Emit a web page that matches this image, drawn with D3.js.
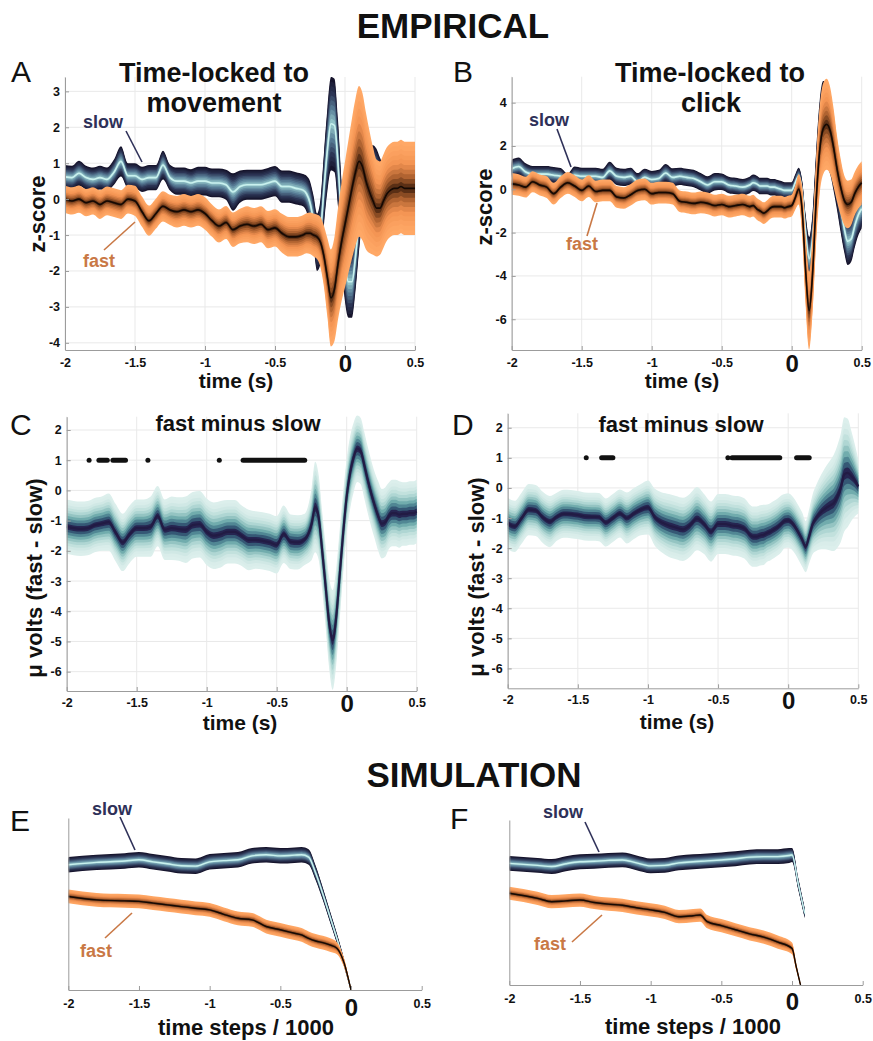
<!DOCTYPE html>
<html><head><meta charset="utf-8">
<script src="https://cdn.jsdelivr.net/npm/d3@7"></script>
<style>
body{margin:0;background:#fff}
svg{display:block}
text{font-family:"Liberation Sans",Arial,Helvetica,sans-serif}
</style>
</head><body>
<svg id="chart" width="873" height="1041"></svg>
<script>
// ---------------- DATA ----------------
const X_TICKS = [-2,-1.5,-1,-0.5,0,0.5];
const X_TICK_LABELS = ["-2","-1.5","-1","-0.5","0","0.5"];
const A_Y_TICKS = [3,2,1,0,-1,-2,-3,-4];
const B_Y_TICKS = [4,2,0,-2,-4,-6];
const CD_Y_TICKS = [2,1,0,-1,-2,-3,-4,-5,-6];

const T_EMP = [-2,-1.95,-1.9,-1.85,-1.8,-1.75,-1.7,-1.65,-1.6,-1.55,-1.5,-1.45,-1.4,-1.35,-1.3,-1.25,-1.2,-1.15,-1.1,-1.05,-1,-0.95,-0.9,-0.85,-0.8,-0.75,-0.7,-0.65,-0.6,-0.55,-0.5,-0.45,-0.4,-0.35,
  -0.3,-0.275,-0.25,-0.225,-0.2,-0.175,-0.15,-0.125,-0.1,-0.075,-0.05,-0.025,0,0.025,0.05,0.075,0.1,0.125,0.15,0.175,0.2,0.225,0.25,0.275,0.3,0.325,0.35,0.375,0.4,0.425,0.45,0.475,0.5];

// Panel A: time-locked to movement (z-score)
const A_SLOW_MEAN = [0.62,0.6,0.72,0.6,0.55,0.6,0.55,0.75,1.05,0.65,0.65,0.55,0.6,0.6,0.95,0.6,0.5,0.5,0.45,0.5,0.5,0.45,0.45,0.4,0.2,0.35,0.4,0.4,0.4,0.45,0.5,0.35,0.35,0.3,
  0.25,0.15,-0.1,-0.6,-1.2,-0.9,0.3,1.4,2.1,2.05,1.0,-0.6,-1.8,-2.3,-2.3,-1.6,-0.6,0.2,0.65,0.85,0.9,0.8,0.55,0.35,0.25,0.2,0.2,0.25,0.3,0.3,0.3,0.3,0.3];
const A_SLOW_W = [0.33,0.33,0.35,0.33,0.33,0.33,0.33,0.35,0.42,0.35,0.35,0.35,0.35,0.35,0.4,0.36,0.38,0.38,0.38,0.4,0.4,0.4,0.4,0.42,0.52,0.45,0.42,0.42,0.42,0.42,0.42,0.45,0.45,0.45,
  0.45,0.5,0.6,0.7,0.8,0.9,1.0,1.15,1.3,1.3,1.2,1.1,1.05,1.0,1.0,0.95,0.85,0.75,0.65,0.6,0.6,0.6,0.6,0.6,0.6,0.6,0.6,0.6,0.6,0.6,0.6,0.6,0.6];
const A_FAST_MEAN = [0.0,-0.05,0.0,-0.1,-0.05,-0.15,-0.05,-0.1,-0.15,0.0,-0.05,-0.35,-0.6,-0.4,-0.2,-0.3,-0.35,-0.3,-0.35,-0.3,-0.4,-0.6,-0.75,-0.65,-0.85,-0.75,-0.7,-0.75,-0.7,-0.85,-0.8,-0.95,-1.05,-1.05,
  -1.0,-0.95,-0.95,-1.0,-1.05,-1.2,-1.6,-2.2,-2.75,-2.5,-1.8,-1.2,-0.7,-0.2,0.3,0.75,1.05,0.9,0.5,0.2,-0.05,-0.25,-0.25,-0.05,0.15,0.25,0.3,0.3,0.35,0.3,0.3,0.3,0.3];
const A_FAST_W = [0.38,0.38,0.38,0.38,0.38,0.4,0.4,0.4,0.4,0.4,0.42,0.42,0.42,0.42,0.42,0.42,0.44,0.44,0.44,0.44,0.45,0.45,0.46,0.46,0.48,0.48,0.5,0.5,0.5,0.52,0.52,0.54,0.55,0.55,
  0.55,0.56,0.58,0.6,0.62,0.7,0.85,1.1,1.35,1.45,1.55,1.65,1.75,1.85,1.95,2.05,2.1,2.05,1.9,1.7,1.5,1.35,1.3,1.3,1.3,1.3,1.3,1.3,1.3,1.3,1.3,1.3,1.3];

// Panel B: time-locked to click (z-score)
const B_SLOW_MEAN = [0.95,1.05,0.8,0.7,0.7,0.7,0.65,0.6,0.35,0.65,0.6,0.6,0.6,0.55,0.85,0.6,0.55,0.6,0.35,0.55,0.45,0.5,0.75,0.55,0.6,0.55,0.5,0.35,0.2,0.35,0.35,0.2,0.15,0.1,
  0.2,0.3,0.25,0.15,0.15,0.15,0.1,0.1,0.05,0.0,-0.05,-0.05,-0.05,0.3,0.6,-0.1,-2.0,-3.2,-2.2,0.2,2.2,3.0,3.0,2.6,1.6,0.4,-0.8,-1.8,-2.4,-2.3,-1.7,-1.2,-0.9];
const B_SLOW_W = [0.42,0.42,0.4,0.38,0.38,0.38,0.38,0.38,0.38,0.4,0.4,0.4,0.4,0.4,0.42,0.4,0.4,0.4,0.4,0.4,0.4,0.4,0.42,0.42,0.4,0.4,0.4,0.4,0.4,0.4,0.38,0.38,0.38,0.38,
  0.38,0.38,0.38,0.38,0.38,0.38,0.38,0.38,0.38,0.38,0.38,0.38,0.38,0.38,0.4,0.5,0.8,1.0,1.2,1.6,1.9,2.0,2.0,1.9,1.7,1.4,1.2,1.1,1.1,1.05,1.0,0.95,0.9];
const B_FAST_MEAN = [0.25,0.2,0.1,0.35,0.2,0.1,-0.2,0.1,0.3,0.15,-0.05,0.15,-0.1,-0.05,-0.05,-0.35,-0.4,-0.25,-0.05,0.0,-0.2,-0.15,-0.15,-0.2,-0.55,-0.6,-0.65,-0.6,-0.65,-0.75,-0.7,-0.8,-0.75,-0.7,
  -0.8,-0.75,-0.9,-1.0,-1.1,-1.0,-0.85,-0.8,-0.8,-0.8,-0.85,-0.8,-0.75,-0.4,0.0,-1.0,-3.8,-5.6,-3.8,-0.5,1.8,2.8,3.0,2.7,1.9,0.9,0.1,-0.5,-0.7,-0.6,-0.2,0.1,0.3];
const B_FAST_W = [0.5,0.5,0.48,0.48,0.48,0.5,0.5,0.5,0.5,0.5,0.5,0.5,0.5,0.5,0.5,0.5,0.5,0.5,0.5,0.5,0.5,0.5,0.5,0.5,0.5,0.5,0.5,0.5,0.5,0.5,0.5,0.5,0.5,0.5,
  0.5,0.5,0.5,0.5,0.5,0.5,0.5,0.5,0.5,0.5,0.5,0.5,0.5,0.55,0.7,1.1,1.6,1.8,1.8,1.9,2.0,2.1,2.1,2.0,1.8,1.5,1.3,1.15,1.1,1.05,1.0,1.0,1.0];

// Panel C: fast minus slow (movement-locked), micro volts
const C_MEAN = [-1.2,-1.25,-1.27,-1.25,-1.15,-1.1,-1.05,-1.4,-1.72,-1.45,-1.25,-1.25,-1.2,-0.85,-1.3,-1.25,-1.28,-1.3,-1.15,-1.12,-1.37,-1.5,-1.45,-1.37,-1.37,-1.5,-1.64,-1.64,-1.67,-1.72,-1.8,-1.45,-1.7,-1.72,
  -1.62,-1.45,-1.1,-0.55,-0.9,-2.0,-3.2,-4.4,-4.95,-4.2,-2.8,-1.4,-0.2,0.6,1.1,1.38,1.3,0.85,0.35,-0.1,-0.5,-0.85,-1.1,-1.05,-0.85,-0.75,-0.75,-0.8,-0.78,-0.78,-0.75,-0.75,-0.7];
const C_W = [0.9,0.9,0.9,0.9,0.9,0.9,0.95,0.95,0.95,0.95,0.95,0.95,1.0,1.0,1.0,1.05,1.05,1.1,1.1,1.1,1.1,1.1,1.1,1.05,1.05,1.0,1.0,0.95,0.95,0.95,0.95,0.95,0.9,0.9,
  0.85,0.95,1.2,1.5,1.4,1.3,1.35,1.5,1.65,1.6,1.5,1.35,1.25,1.2,1.15,1.1,1.1,1.1,1.1,1.1,1.1,1.15,1.15,1.15,1.1,1.1,1.1,1.1,1.05,1.05,1.05,1.05,1.05];
const C_SIG = [[-1.84,-1.84],[-1.77,-1.71],[-1.67,-1.58],[-1.42,-1.42],[-0.91,-0.91],[-0.74,-0.30]];

// Panel D: fast minus slow (click-locked), micro volts
const D_MEAN = [-1.18,-1.28,-1.0,-0.72,-0.75,-0.98,-1.12,-0.96,-0.86,-0.87,-0.9,-0.95,-0.96,-0.97,-1.15,-1.0,-0.85,-1.0,-0.85,-0.72,-0.65,-0.98,-1.15,-1.25,-1.32,-1.38,-1.24,-1.02,-1.2,-1.45,-1.2,-1.2,-1.25,-1.28,
  -1.4,-1.55,-1.62,-1.62,-1.58,-1.56,-1.5,-1.45,-1.38,-1.3,-1.2,-1.1,-1.08,-1.15,-1.3,-1.5,-1.72,-1.95,-1.6,-1.2,-1.0,-0.85,-0.74,-0.65,-0.58,-0.5,-0.3,0.0,0.45,0.5,0.4,0.25,0.05];
const D_W = [0.85,0.85,0.85,0.85,0.85,0.85,0.85,0.8,0.8,0.8,0.8,0.8,0.8,0.8,0.8,0.8,0.8,0.85,0.85,0.85,0.9,0.95,1.0,1.05,1.05,1.05,1.05,1.05,1.0,1.0,1.0,1.0,1.0,1.0,
  1.0,1.0,1.0,1.0,1.0,1.0,0.95,0.95,0.95,0.95,0.95,0.9,0.9,0.9,0.9,0.9,0.9,0.85,0.9,1.0,1.1,1.2,1.3,1.4,1.5,1.6,1.7,1.8,1.9,1.8,1.5,1.2,0.9];
const D_SIG = [[-1.44,-1.44],[-1.33,-1.25],[-0.43,-0.43],[-0.40,-0.06],[0.06,0.15]];

// Panel E: simulation, movement-locked (arbitrary units 0..1)
const E_T = [-2,-1.8,-1.6,-1.5,-1.4,-1.3,-1.2,-1.1,-1,-0.9,-0.8,-0.7,-0.6,-0.5,-0.4,-0.35,-0.3,-0.25,-0.2,-0.15,-0.1,-0.05,0];
const E_SLOW = [0.728,0.742,0.75,0.757,0.745,0.734,0.722,0.72,0.745,0.752,0.757,0.78,0.786,0.78,0.784,0.786,0.773,0.68,0.56,0.43,0.3,0.16,0.0];
const E_SLOW_W = [0.045,0.045,0.045,0.045,0.045,0.045,0.045,0.045,0.045,0.045,0.045,0.045,0.045,0.045,0.045,0.045,0.045,0.042,0.036,0.032,0.028,0.022,0.012];
const E_FAST = [0.544,0.524,0.518,0.515,0.505,0.495,0.485,0.475,0.466,0.44,0.417,0.408,0.369,0.35,0.33,0.32,0.3,0.285,0.275,0.262,0.243,0.16,0.0];
const E_FAST_W = [0.04,0.04,0.04,0.04,0.04,0.04,0.04,0.04,0.04,0.04,0.04,0.04,0.04,0.04,0.04,0.04,0.04,0.04,0.04,0.04,0.035,0.025,0.01];

// Panel F: simulation, click-locked
const F_T_SLOW = [-2,-1.8,-1.7,-1.6,-1.5,-1.4,-1.3,-1.2,-1.1,-1,-0.9,-0.8,-0.7,-0.6,-0.5,-0.4,-0.3,-0.2,-0.1,-0.02,0,0.045,0.09];
const F_SLOW = [0.737,0.725,0.718,0.735,0.747,0.75,0.755,0.758,0.74,0.722,0.725,0.74,0.747,0.752,0.758,0.765,0.775,0.778,0.778,0.785,0.788,0.61,0.434];
const F_SLOW_W = [0.045,0.045,0.045,0.045,0.045,0.045,0.045,0.045,0.045,0.045,0.045,0.045,0.045,0.045,0.045,0.045,0.045,0.045,0.045,0.045,0.042,0.035,0.03];
const F_T_FAST = [-2,-1.8,-1.7,-1.6,-1.5,-1.4,-1.3,-1.2,-1.1,-1,-0.9,-0.8,-0.7,-0.65,-0.6,-0.5,-0.4,-0.3,-0.2,-0.1,0,0.03,0.06];
const F_FAST = [0.556,0.525,0.505,0.51,0.515,0.5,0.49,0.483,0.468,0.455,0.44,0.414,0.42,0.424,0.384,0.36,0.335,0.31,0.29,0.26,0.222,0.11,0.0];
const F_FAST_W = [0.04,0.04,0.04,0.04,0.04,0.04,0.04,0.04,0.04,0.04,0.04,0.04,0.04,0.04,0.04,0.04,0.04,0.04,0.04,0.04,0.035,0.02,0.01];

// ---------------- STYLE ----------------
const SLOW_STOPS = ["#16142c","#2b3454","#5a8099","#a6dcd9"];
const FAST_STOPS = ["#ffa866","#f39352","#a85d2d","#2a1206"];
const DIFF_STOPS = ["#dcefec","#a9d3cf","#6aa7a9","#3b6b82","#262652","#221b44"];
const SLOW_TXT = "#2e3058", FAST_TXT = "#c97845";
const FONT = '"Liberation Sans",Arial,Helvetica,sans-serif';

const svg = d3.select("#chart");
let clipId = 0;

function makePanel(p) {
  const x = d3.scaleLinear().domain([-2, 0.5]).range([p.left, p.right]);
  const y = d3.scaleLinear().domain(p.yDomain).range([p.bottom, p.top]);
  const g = svg.append("g");
  if (p.grid) {
    g.append("g").selectAll("line").data(X_TICKS).join("line")
      .attr("x1", d => x(d)).attr("x2", d => x(d)).attr("y1", p.top).attr("y2", p.bottom)
      .attr("stroke", "#e9e9e9").attr("stroke-width", 1);
    g.append("g").selectAll("line").data(p.yTicks).join("line")
      .attr("x1", p.left).attr("x2", p.right).attr("y1", d => y(d)).attr("y2", d => y(d))
      .attr("stroke", "#e9e9e9").attr("stroke-width", 1);
  }
  const id = "clip" + (clipId++);
  svg.append("clipPath").attr("id", id).append("rect")
    .attr("x", p.left).attr("y", p.top - 2).attr("width", p.right - p.left + 1).attr("height", p.bottom - p.top + 2);
  const plot = g.append("g").attr("clip-path", `url(#${id})`);

  const xa = g.append("g").attr("transform", `translate(0,${p.bottom})`)
    .call(d3.axisBottom(x).tickValues(X_TICKS).tickSize(-4).tickSizeOuter(0)
      .tickFormat((d, i) => X_TICK_LABELS[i]));
  xa.select(".domain").attr("stroke", "#9c9c9c");
  xa.selectAll(".tick line").attr("stroke", "#9c9c9c");
  xa.selectAll(".tick text").attr("dy", null)
    .attr("y", d => d === 0 ? p.zeroDy : p.tickDy)
    .attr("font-family", FONT).attr("font-weight", "bold")
    .attr("font-size", d => d === 0 ? 24 : 12.5).attr("fill", "#111");
  const ya = g.append("g").attr("transform", `translate(${p.left},0)`)
    .call(d3.axisLeft(y).tickValues(p.yTicks).tickSize(p.yTicks.length ? -4 : 0).tickSizeOuter(0)
      .tickFormat(d => String(d)));
  ya.select(".domain").attr("stroke", "#9c9c9c");
  ya.selectAll(".tick line").attr("stroke", "#9c9c9c");
  ya.selectAll(".tick text").attr("x", -5).attr("font-family", FONT).attr("font-weight", "bold")
    .attr("font-size", 12.5).attr("fill", "#111");
  return {x, y, g, plot};
}

function band(P, T, M, W, stops, n, gamma, lineColor, lineWidth) {
  const interp = d3.piecewise(d3.interpolateRgb, stops);
  for (let k = n; k >= 1; k--) {
    const f = k / n;
    const area = d3.area()
      .x((d, i) => P.x(T[i]))
      .y0((d, i) => P.y(M[i] - W[i] * f))
      .y1((d, i) => P.y(M[i] + W[i] * f))
      .curve(d3.curveMonotoneX);
    P.plot.append("path").datum(M).attr("d", area)
      .attr("fill", interp(Math.pow(1 - f, gamma)));
  }
  const line = d3.line().x((d, i) => P.x(T[i])).y(d => P.y(d)).curve(d3.curveMonotoneX);
  P.plot.append("path").datum(M).attr("d", line)
    .attr("fill", "none").attr("stroke", lineColor).attr("stroke-width", lineWidth);
}

function sig(P, intervals) {
  P.g.append("g").selectAll("rect").data(intervals).join("rect")
    .attr("x", d => P.x(d[0]) - 2.5).attr("width", d => P.x(d[1]) - P.x(d[0]) + 5)
    .attr("y", P.y(1) - 2.5).attr("height", 5).attr("rx", 2.5).attr("fill", "#111");
}

function txt(x, y, s, size, opts = {}) {
  const t = svg.append("text").attr("x", x).attr("y", y).text(s)
    .attr("font-size", size).attr("font-weight", opts.weight || "bold")
    .attr("text-anchor", opts.anchor || "middle").attr("fill", opts.fill || "#111")
    .attr("font-family", FONT);
  if (opts.rotate) t.attr("transform", `rotate(-90,${x},${y})`);
  return t;
}
function pointer(x1, y1, x2, y2, color) {
  svg.append("line").attr("x1", x1).attr("y1", y1).attr("x2", x2).attr("y2", y2)
    .attr("stroke", color).attr("stroke-width", 1.6);
}

// ---------------- PANELS ----------------
const PA = makePanel({left: 65, right: 415, top: 77, bottom: 350, yDomain: [-4.2, 3.4], yTicks: A_Y_TICKS, grid: true, tickDy: 17, zeroDy: 22});
band(PA, T_EMP, A_SLOW_MEAN, A_SLOW_W, SLOW_STOPS, 10, 0.9, "#c9f1ee", 1.6);
band(PA, T_EMP, A_FAST_MEAN, A_FAST_W, FAST_STOPS, 10, 1.3, "#150903", 1.6);

const PB = makePanel({left: 511.7, right: 861.7, top: 76.7, bottom: 350, yDomain: [-7.42, 5.2], yTicks: B_Y_TICKS, grid: true, tickDy: 17, zeroDy: 22});
band(PB, T_EMP, B_SLOW_MEAN, B_SLOW_W, SLOW_STOPS, 10, 0.9, "#c9f1ee", 1.6);
band(PB, T_EMP, B_FAST_MEAN, B_FAST_W, FAST_STOPS, 10, 1.3, "#150903", 1.6);

const PC = makePanel({left: 66.7, right: 416.7, top: 416.7, bottom: 691, yDomain: [-6.64, 2.44], yTicks: CD_Y_TICKS, grid: true, tickDy: 16, zeroDy: 21});
band(PC, T_EMP, C_MEAN, C_W, DIFF_STOPS, 10, 1.9, "#221b44", 2.2);
sig(PC, C_SIG);

const PD = makePanel({left: 507.7, right: 858.3, top: 413.3, bottom: 688.3, yDomain: [-6.66, 2.48], yTicks: CD_Y_TICKS, grid: true, tickDy: 16, zeroDy: 21});
band(PD, T_EMP, D_MEAN, D_W, DIFF_STOPS, 10, 1.9, "#221b44", 2.2);
sig(PD, D_SIG);

const PE = makePanel({left: 68.3, right: 421.7, top: 818, bottom: 990, yDomain: [0, 1], yTicks: [], grid: false, tickDy: 18, zeroDy: 26});
band(PE, E_T, E_SLOW, E_SLOW_W, SLOW_STOPS, 8, 0.9, "#c9f1ee", 1.4);
band(PE, E_T, E_FAST, E_FAST_W, FAST_STOPS, 8, 1.3, "#150903", 1.4);

const PF = makePanel({left: 509.3, right: 862.7, top: 820, bottom: 985, yDomain: [0, 1], yTicks: [], grid: false, tickDy: 18, zeroDy: 25});
band(PF, F_T_SLOW, F_SLOW, F_SLOW_W, SLOW_STOPS, 8, 0.9, "#c9f1ee", 1.4);
band(PF, F_T_FAST, F_FAST, F_FAST_W, FAST_STOPS, 8, 1.3, "#150903", 1.4);

// ---------------- TEXT ----------------
txt(453, 38, "EMPIRICAL", 35);
txt(474, 787, "SIMULATION", 35);

txt(11, 82, "A", 30, {weight: "normal", anchor: "start"});
txt(453, 82, "B", 30, {weight: "normal", anchor: "start"});
txt(10, 435, "C", 30, {weight: "normal", anchor: "start"});
txt(452, 435, "D", 30, {weight: "normal", anchor: "start"});
txt(10, 831, "E", 30, {weight: "normal", anchor: "start"});
txt(450, 829, "F", 30, {weight: "normal", anchor: "start"});

txt(214, 82, "Time-locked to", 27);
txt(214, 112, "movement", 27);
txt(710, 82, "Time-locked to", 27);
txt(711, 112, "click", 27);
txt(238, 431, "fast minus slow", 22);
txt(681, 432, "fast minus slow", 22);

txt(45, 214, "z-score", 22, {rotate: true});
txt(492, 207, "z-score", 22, {rotate: true});
txt(42, 578, "μ volts (fast - slow)", 22, {rotate: true});
txt(484, 577, "μ volts (fast - slow)", 22, {rotate: true});

txt(236, 388, "time (s)", 21);
txt(682, 388, "time (s)", 21);
txt(240, 730, "time (s)", 21);
txt(677, 729, "time (s)", 21);
txt(246, 1035, "time steps / 1000", 22);
txt(693, 1034, "time steps / 1000", 22);

txt(103, 128, "slow", 18, {fill: SLOW_TXT});
pointer(126, 131, 142, 162, SLOW_TXT);
txt(99, 267, "fast", 18, {fill: FAST_TXT});
pointer(104, 250, 135, 222, FAST_TXT);

txt(549, 126, "slow", 18, {fill: SLOW_TXT});
pointer(557, 129, 571, 167, SLOW_TXT);
txt(582, 250, "fast", 18, {fill: FAST_TXT});
pointer(587, 236, 597, 203, FAST_TXT);

txt(112, 815, "slow", 18, {fill: SLOW_TXT});
pointer(120, 817, 135, 850, SLOW_TXT);
txt(96, 957, "fast", 18, {fill: FAST_TXT});
pointer(105, 938, 132, 913, FAST_TXT);

txt(563, 818, "slow", 18, {fill: SLOW_TXT});
pointer(585, 822, 599, 852, SLOW_TXT);
txt(550, 950, "fast", 18, {fill: FAST_TXT});
pointer(572, 942, 602, 915, FAST_TXT);
</script>
</body></html>
